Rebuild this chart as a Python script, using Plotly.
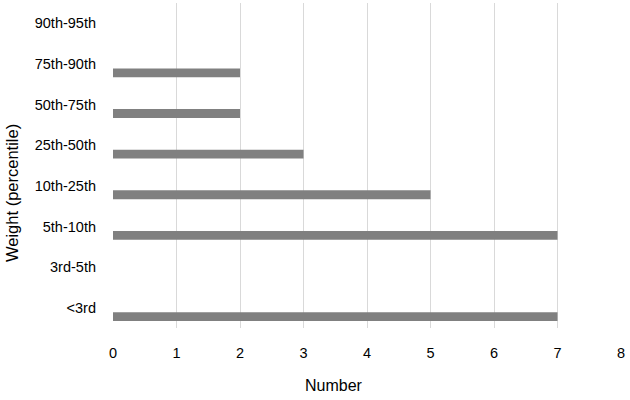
import plotly.graph_objects as go

categories = ["<3rd", "3rd-5th", "5th-10th", "10th-25th", "25th-50th", "50th-75th", "75th-90th", "90th-95th"]
values = [7, 0, 7, 5, 3, 2, 2, 0]
x_ticks = [0, 1, 2, 3, 4, 5, 6, 7, 8]

font_family = "Liberation Sans, Arial, sans-serif"

W, H = 630, 400
ML, MR, MT, MB = 113, 9, 3, 72

fig = go.Figure()
fig.add_trace(go.Bar(
    x=values,
    y=categories,
    orientation="h",
    marker=dict(color="#808080", line=dict(width=0)),
    width=0.22,
    offset=-0.33,
))

plot_w = W - ML - MR
plot_h = H - MT - MB

fig.update_layout(
    width=W,
    height=H,
    margin=dict(l=ML, r=MR, t=MT, b=MB, autoexpand=False),
    paper_bgcolor="white",
    plot_bgcolor="white",
    showlegend=False,
    font=dict(family=font_family, size=14, color="#000000"),
    xaxis=dict(
        range=[0, 8],
        tickvals=x_ticks,
        showgrid=True,
        gridcolor="#d9d9d9",
        gridwidth=1,
        zeroline=False,
        showline=False,
        ticks="",
        ticklabelstandoff=14,
        tickfont=dict(size=14.5),
        fixedrange=True,
    ),
    yaxis=dict(
        type="category",
        categoryorder="array",
        categoryarray=categories,
        range=[-0.5, 7.5],
        showgrid=False,
        zeroline=False,
        showline=False,
        ticks="",
        ticklabelstandoff=16,
        tickfont=dict(size=14.5),
        fixedrange=True,
    ),
    annotations=[
        dict(text="Number", x=(334 - ML) / plot_w, y=(H - MB - 385) / plot_h,
             xref="paper", yref="paper", xanchor="center", yanchor="middle",
             showarrow=False, font=dict(size=16)),
        dict(text="Weight (percentile)", x=(12 - ML) / plot_w, y=(H - MB - 193) / plot_h,
             xref="paper", yref="paper", xanchor="center", yanchor="middle",
             showarrow=False, textangle=-90, font=dict(size=16.5)),
    ],
)

fig.write_html(
    "out.html",
    config={"displayModeBar": False},
    post_script="document.body.style.margin='0';document.body.style.padding='0';",
)
